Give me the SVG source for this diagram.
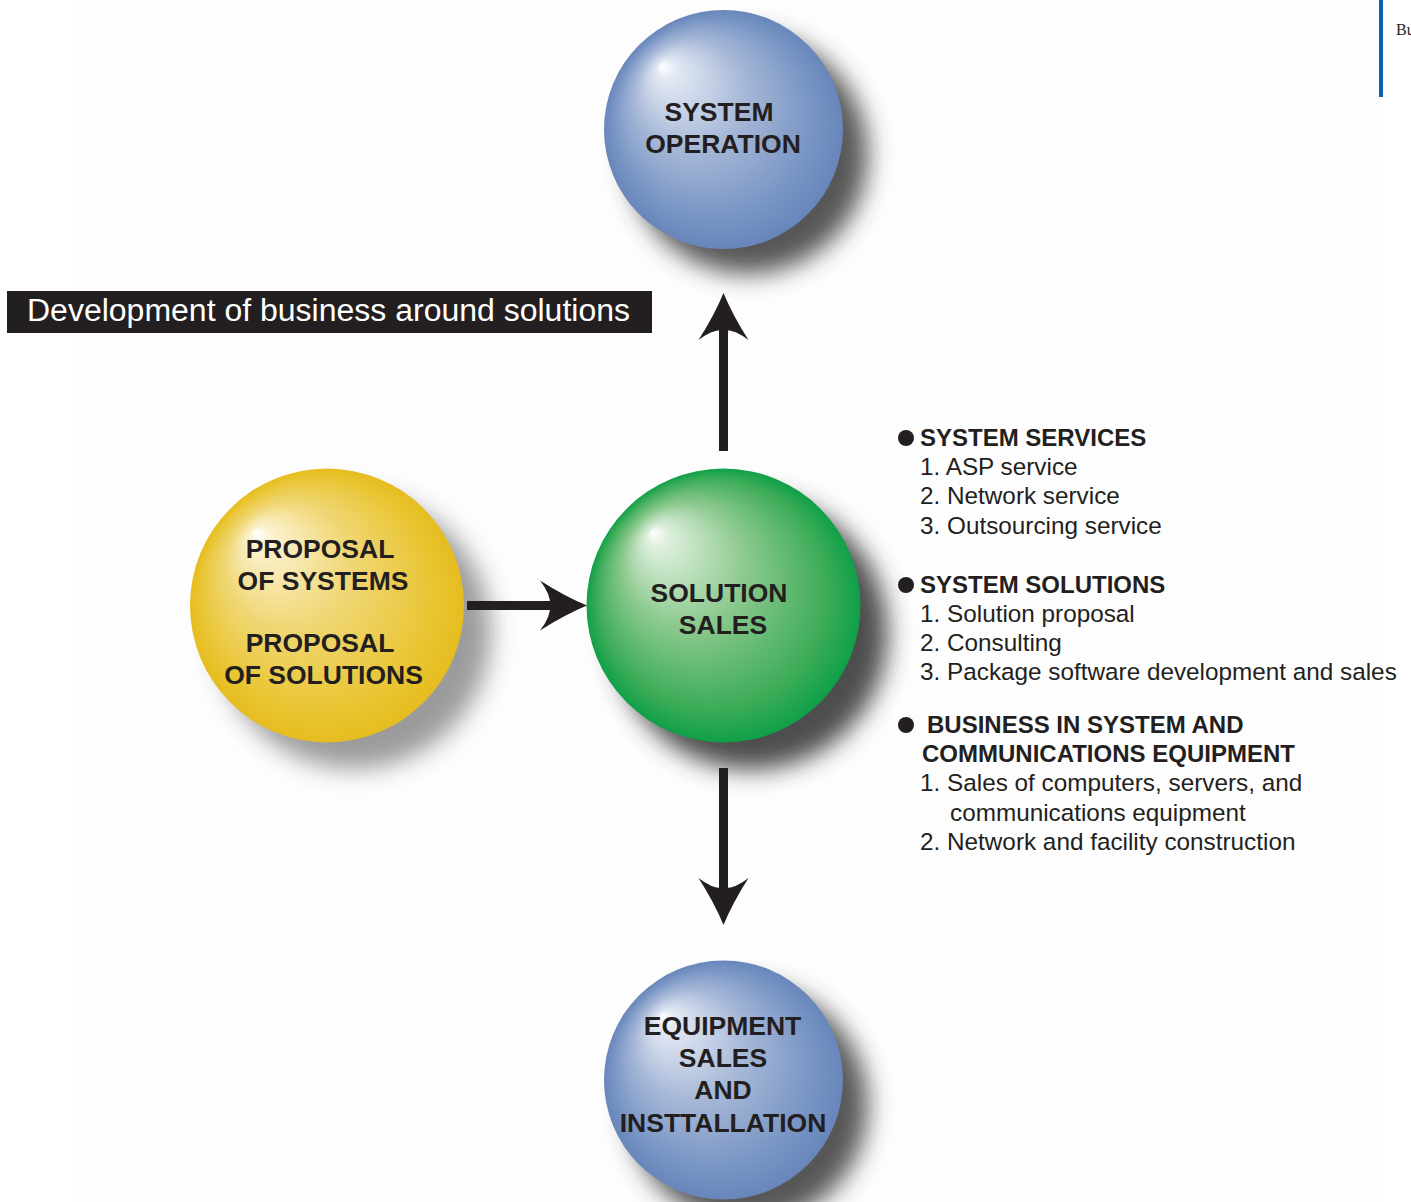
<svg xmlns="http://www.w3.org/2000/svg" width="1411" height="1202" viewBox="0 0 1411 1202">
<defs>
<style>
.lbl{font-family:"Liberation Sans",Arial,sans-serif;font-weight:bold;font-size:26.5px;fill:#231f20;text-anchor:middle}
.hd{font-family:"Liberation Sans",Arial,sans-serif;font-weight:bold;font-size:24px;fill:#231f20}
.it{font-family:"Liberation Sans",Arial,sans-serif;font-size:24.3px;fill:#231f20}
.conn{stroke:#231f20;stroke-width:9;fill:none;marker-end:url(#head)}
</style>
<radialGradient id="gBlue" cx="0.5" cy="0.5" r="0.5" fx="0.24" fy="0.23">
<stop offset="0" stop-color="#ffffff"/>
<stop offset="0.08" stop-color="#e3e9f4"/>
<stop offset="0.45" stop-color="#a8b9d8"/>
<stop offset="0.85" stop-color="#7693c3"/>
<stop offset="1" stop-color="#6986bb"/>
</radialGradient>
<radialGradient id="gGreen" cx="0.5" cy="0.5" r="0.5" fx="0.24" fy="0.23">
<stop offset="0" stop-color="#ffffff"/>
<stop offset="0.08" stop-color="#ddefdc"/>
<stop offset="0.45" stop-color="#8cc98e"/>
<stop offset="0.85" stop-color="#3aab57"/>
<stop offset="1" stop-color="#0fa048"/>
</radialGradient>
<radialGradient id="gYellow" cx="0.5" cy="0.5" r="0.5" fx="0.24" fy="0.23">
<stop offset="0" stop-color="#ffffff"/>
<stop offset="0.08" stop-color="#fbf2cf"/>
<stop offset="0.45" stop-color="#f0d776"/>
<stop offset="0.85" stop-color="#e9c532"/>
<stop offset="1" stop-color="#e6bd1f"/>
</radialGradient>
<filter id="blur" x="-50%" y="-50%" width="200%" height="200%">
<feGaussianBlur stdDeviation="12"/>
</filter>
<marker id="head" markerUnits="userSpaceOnUse" viewBox="-50 -30 54 60" refX="-37" refY="0" markerWidth="54" markerHeight="60" orient="auto">
<path d="M0,0 Q-22,-9 -47,-25 Q-36,-11 -37,0 Q-36,11 -47,25 Q-22,9 0,0 Z" fill="#231f20"/>
</marker>
</defs>
<rect x="0" y="0" width="1411" height="1202" fill="#ffffff"/>
<rect x="79" y="0" width="1299" height="1202" fill="#fdfdfd"/>
<rect x="1379" y="0" width="4" height="97" fill="#0a5fb4"/>
<text x="1396" y="35" style="font-family:'Liberation Serif','Times New Roman',serif;font-size:16px;fill:#231f20">Bu</text>

<g id="title">
<rect x="7" y="291" width="645" height="42" fill="#231f20"/>
<text x="27" y="321" textLength="603" lengthAdjust="spacingAndGlyphs" style="font-family:'Liberation Sans',Arial,sans-serif;font-size:31px;fill:#ffffff">Development of business around solutions</text>
</g>

<g id="node-system-operation">
<circle cx="748" cy="154" r="120" fill="#3a3a3a" opacity="0.85" filter="url(#blur)"/>
<circle cx="723.5" cy="129.5" r="119.5" fill="url(#gBlue)"/>
<text class="lbl" x="719" y="121">SYSTEM</text>
<text class="lbl" x="723" y="153">OPERATION</text>
</g>

<g id="node-proposal">
<circle cx="354" cy="632" r="137" fill="#3a3a3a" opacity="0.5" filter="url(#blur)"/>
<circle cx="327" cy="605.5" r="137" fill="url(#gYellow)"/>
<text class="lbl" x="320" y="558">PROPOSAL</text>
<text class="lbl" x="323" y="590">OF SYSTEMS</text>
<text class="lbl" x="320" y="652">PROPOSAL</text>
<text class="lbl" x="323.5" y="684">OF SOLUTIONS</text>
</g>

<g id="node-solution-sales">
<circle cx="751" cy="633" r="137" fill="#3a3a3a" opacity="0.9" filter="url(#blur)"/>
<circle cx="723.5" cy="605.5" r="137" fill="url(#gGreen)"/>
<text class="lbl" x="719" y="602">SOLUTION</text>
<text class="lbl" x="723" y="634">SALES</text>
</g>

<g id="node-equipment">
<circle cx="748" cy="1105" r="120" fill="#3a3a3a" opacity="0.85" filter="url(#blur)"/>
<circle cx="723.5" cy="1080" r="119.5" fill="url(#gBlue)"/>
<text class="lbl" x="722.5" y="1035">EQUIPMENT</text>
<text class="lbl" x="723" y="1067">SALES</text>
<text class="lbl" x="723" y="1099">AND</text>
<text class="lbl" x="723" y="1132">INSTTALLATION</text>
</g>

<g id="connectors">
<line class="conn" x1="467" y1="605.5" x2="550" y2="605.5"/>
<line class="conn" x1="723.5" y1="451" x2="723.5" y2="330"/>
<line class="conn" x1="723.5" y1="768" x2="723.5" y2="888"/>
</g>

<g id="list">
<circle cx="906" cy="438" r="8" fill="#231f20"/>
<text class="hd" x="920" y="446">SYSTEM SERVICES</text>
<text class="it" x="920" y="475">1. ASP service</text>
<text class="it" x="920" y="504">2. Network service</text>
<text class="it" x="920" y="534">3. Outsourcing service</text>
<circle cx="906" cy="585" r="8" fill="#231f20"/>
<text class="hd" x="920" y="593">SYSTEM SOLUTIONS</text>
<text class="it" x="920" y="622">1. Solution proposal</text>
<text class="it" x="920" y="651">2. Consulting</text>
<text class="it" x="920" y="680">3. Package software development and sales</text>
<circle cx="906" cy="725" r="8" fill="#231f20"/>
<text class="hd" x="927" y="733">BUSINESS IN SYSTEM AND</text>
<text class="hd" x="922" y="762">COMMUNICATIONS EQUIPMENT</text>
<text class="it" x="920" y="791">1. Sales of computers, servers, and</text>
<text class="it" x="950" y="821">communications equipment</text>
<text class="it" x="920" y="850">2. Network and facility construction</text>
</g>
</svg>
